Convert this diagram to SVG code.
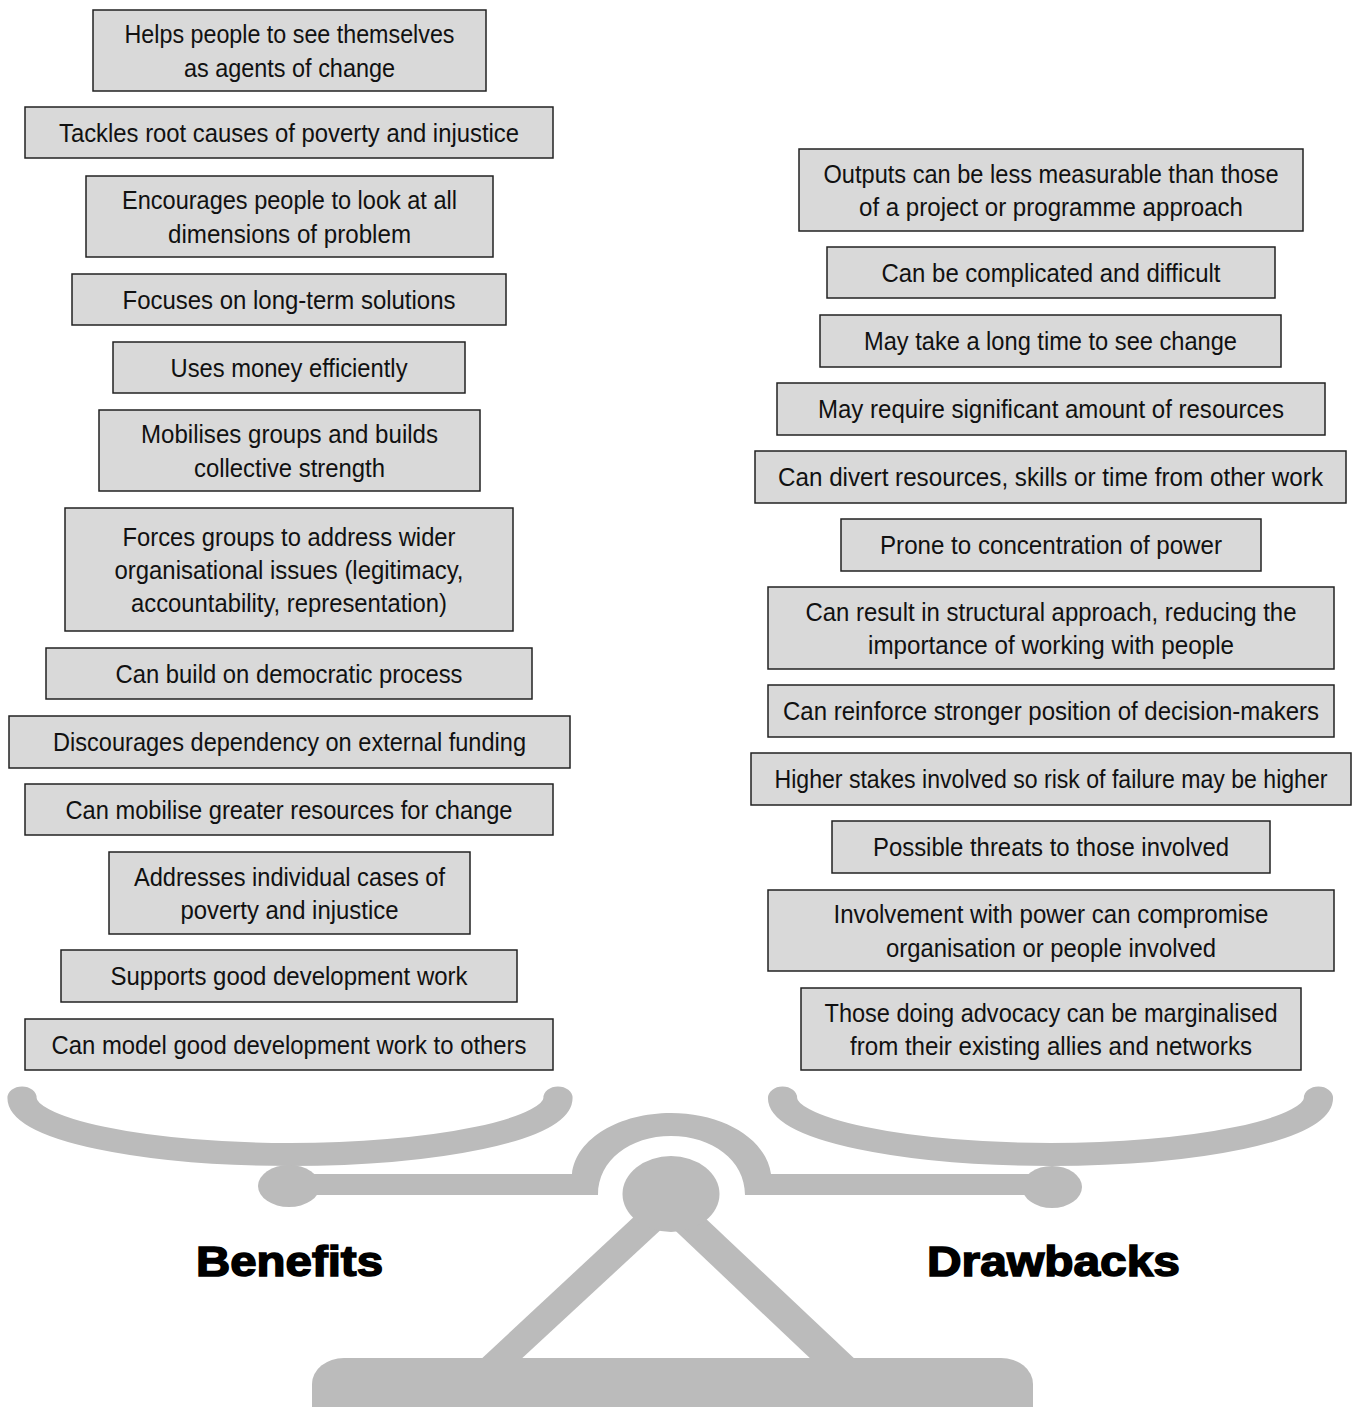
<svg xmlns="http://www.w3.org/2000/svg" width="1359" height="1407" viewBox="0 0 1359 1407">
<style>
.box{fill:#d9d9d9;stroke:#222;stroke-width:1.5}
.t{font-family:"Liberation Sans Narrow","Arial Narrow","Liberation Sans",Arial,sans-serif;font-size:26px;fill:#111;text-anchor:middle}
.g{fill:#bbbbbb}
.pan{fill:none;stroke:#bbbbbb;stroke-width:23;stroke-linecap:round}
.lbl{font-family:"Liberation Sans",Arial,sans-serif;font-size:42px;font-weight:bold;fill:#000;stroke:#000;stroke-width:1.5;text-anchor:middle}
</style>
<rect width="1359" height="1407" fill="#fff"/>
<g id="scale">
<path class="pan" transform="translate(290,0) scale(1.27,1) translate(-290,0)" d="M79,1098 A211,56.5 0 0 0 501,1098"/>
<path class="pan" transform="translate(1050.5,0) scale(1.27,1) translate(-1050.5,0)" d="M839.5,1098 A211,56.5 0 0 0 1261.5,1098"/>
<ellipse class="g" cx="289" cy="1186" rx="31" ry="21"/>
<ellipse class="g" cx="1052" cy="1187" rx="30" ry="21"/>
<path class="g" d="M290,1174 L572,1174 C576,1138 620,1113 671,1113 C722,1113 766,1138 771,1174 L1052,1174 L1052,1195 L745,1195 C745,1160 712,1136 671,1136 C630,1136 598,1160 598,1195 L290,1195 Z"/>
<polygon class="g" points="652,1200 693,1200 518,1362 478,1362"/>
<polygon class="g" points="643,1200 686,1200 858,1362 814,1362"/>
<ellipse class="g" cx="671" cy="1194" rx="48.5" ry="38"/>
<rect class="g" x="312" y="1358" width="721" height="80" rx="32" ry="26"/>
</g>
<g id="benefits">
<g id="b1"><rect class="box" x="93" y="10" width="393" height="81"/><text class="t" x="289.5" y="43.2" textLength="330" lengthAdjust="spacingAndGlyphs">Helps people to see themselves</text><text class="t" x="289.5" y="76.5" textLength="211" lengthAdjust="spacingAndGlyphs">as agents of change</text></g>
<g id="b2"><rect class="box" x="25" y="107" width="528" height="51"/><text class="t" x="289" y="141.8" textLength="460" lengthAdjust="spacingAndGlyphs">Tackles root causes of poverty and injustice</text></g>
<g id="b3"><rect class="box" x="86" y="176" width="407" height="81"/><text class="t" x="289.5" y="209.2" textLength="335" lengthAdjust="spacingAndGlyphs">Encourages people to look at all</text><text class="t" x="289.5" y="242.5" textLength="243" lengthAdjust="spacingAndGlyphs">dimensions of problem</text></g>
<g id="b4"><rect class="box" x="72" y="274" width="434" height="51"/><text class="t" x="289" y="308.8" textLength="333" lengthAdjust="spacingAndGlyphs">Focuses on long-term solutions</text></g>
<g id="b5"><rect class="box" x="113" y="342" width="352" height="51"/><text class="t" x="289" y="376.8" textLength="237" lengthAdjust="spacingAndGlyphs">Uses money efficiently</text></g>
<g id="b6"><rect class="box" x="99" y="410" width="381" height="81"/><text class="t" x="289.5" y="443.2" textLength="297" lengthAdjust="spacingAndGlyphs">Mobilises groups and builds</text><text class="t" x="289.5" y="476.5" textLength="191" lengthAdjust="spacingAndGlyphs">collective strength</text></g>
<g id="b7"><rect class="box" x="65" y="508" width="448" height="123"/><text class="t" x="289" y="545.5" textLength="333" lengthAdjust="spacingAndGlyphs">Forces groups to address wider</text><text class="t" x="289" y="578.8" textLength="349" lengthAdjust="spacingAndGlyphs">organisational issues (legitimacy,</text><text class="t" x="289" y="612.1" textLength="316" lengthAdjust="spacingAndGlyphs">accountability, representation)</text></g>
<g id="b8"><rect class="box" x="46" y="648" width="486" height="51"/><text class="t" x="289" y="682.8" textLength="347" lengthAdjust="spacingAndGlyphs">Can build on democratic process</text></g>
<g id="b9"><rect class="box" x="9" y="716" width="561" height="52"/><text class="t" x="289.5" y="751.3" textLength="473" lengthAdjust="spacingAndGlyphs">Discourages dependency on external funding</text></g>
<g id="b10"><rect class="box" x="25" y="784" width="528" height="51"/><text class="t" x="289" y="818.8" textLength="447" lengthAdjust="spacingAndGlyphs">Can mobilise greater resources for change</text></g>
<g id="b11"><rect class="box" x="109" y="852" width="361" height="82"/><text class="t" x="289.5" y="885.7" textLength="311" lengthAdjust="spacingAndGlyphs">Addresses individual cases of</text><text class="t" x="289.5" y="919" textLength="218" lengthAdjust="spacingAndGlyphs">poverty and injustice</text></g>
<g id="b12"><rect class="box" x="61" y="950" width="456" height="52"/><text class="t" x="289" y="985.3" textLength="357" lengthAdjust="spacingAndGlyphs">Supports good development work</text></g>
<g id="b13"><rect class="box" x="25" y="1019" width="528" height="51"/><text class="t" x="289" y="1053.8" textLength="475" lengthAdjust="spacingAndGlyphs">Can model good development work to others</text></g>
</g>
<g id="drawbacks">
<g id="d1"><rect class="box" x="799" y="149" width="504" height="82"/><text class="t" x="1051" y="182.7" textLength="455" lengthAdjust="spacingAndGlyphs">Outputs can be less measurable than those</text><text class="t" x="1051" y="216" textLength="384" lengthAdjust="spacingAndGlyphs">of a project or programme approach</text></g>
<g id="d2"><rect class="box" x="827" y="247" width="448" height="51"/><text class="t" x="1051" y="281.8" textLength="339" lengthAdjust="spacingAndGlyphs">Can be complicated and difficult</text></g>
<g id="d3"><rect class="box" x="820" y="315" width="461" height="52"/><text class="t" x="1050.5" y="350.3" textLength="373" lengthAdjust="spacingAndGlyphs">May take a long time to see change</text></g>
<g id="d4"><rect class="box" x="777" y="383" width="548" height="52"/><text class="t" x="1051" y="418.3" textLength="466" lengthAdjust="spacingAndGlyphs">May require significant amount of resources</text></g>
<g id="d5"><rect class="box" x="755" y="451" width="591" height="52"/><text class="t" x="1050.5" y="486.3" textLength="545" lengthAdjust="spacingAndGlyphs">Can divert resources, skills or time from other work</text></g>
<g id="d6"><rect class="box" x="841" y="519" width="420" height="52"/><text class="t" x="1051" y="554.3" textLength="342" lengthAdjust="spacingAndGlyphs">Prone to concentration of power</text></g>
<g id="d7"><rect class="box" x="768" y="587" width="566" height="82"/><text class="t" x="1051" y="620.7" textLength="491" lengthAdjust="spacingAndGlyphs">Can result in structural approach, reducing the</text><text class="t" x="1051" y="654" textLength="366" lengthAdjust="spacingAndGlyphs">importance of working with people</text></g>
<g id="d8"><rect class="box" x="768" y="685" width="566" height="52"/><text class="t" x="1051" y="720.3" textLength="536" lengthAdjust="spacingAndGlyphs">Can reinforce stronger position of decision-makers</text></g>
<g id="d9"><rect class="box" x="751" y="753" width="600" height="52"/><text class="t" x="1051" y="788.3" textLength="553" lengthAdjust="spacingAndGlyphs">Higher stakes involved so risk of failure may be higher</text></g>
<g id="d10"><rect class="box" x="832" y="821" width="438" height="52"/><text class="t" x="1051" y="856.3" textLength="356" lengthAdjust="spacingAndGlyphs">Possible threats to those involved</text></g>
<g id="d11"><rect class="box" x="768" y="890" width="566" height="81"/><text class="t" x="1051" y="923.2" textLength="435" lengthAdjust="spacingAndGlyphs">Involvement with power can compromise</text><text class="t" x="1051" y="956.5" textLength="330" lengthAdjust="spacingAndGlyphs">organisation or people involved</text></g>
<g id="d12"><rect class="box" x="801" y="988" width="500" height="82"/><text class="t" x="1051" y="1021.7" textLength="453" lengthAdjust="spacingAndGlyphs">Those doing advocacy can be marginalised</text><text class="t" x="1051" y="1055" textLength="402" lengthAdjust="spacingAndGlyphs">from their existing allies and networks</text></g>
</g>
<g id="labels">
<text class="lbl" x="289.5" y="1276" textLength="187" lengthAdjust="spacingAndGlyphs">Benefits</text>
<text class="lbl" x="1053.5" y="1276" textLength="253" lengthAdjust="spacingAndGlyphs">Drawbacks</text>
</g>
</svg>
